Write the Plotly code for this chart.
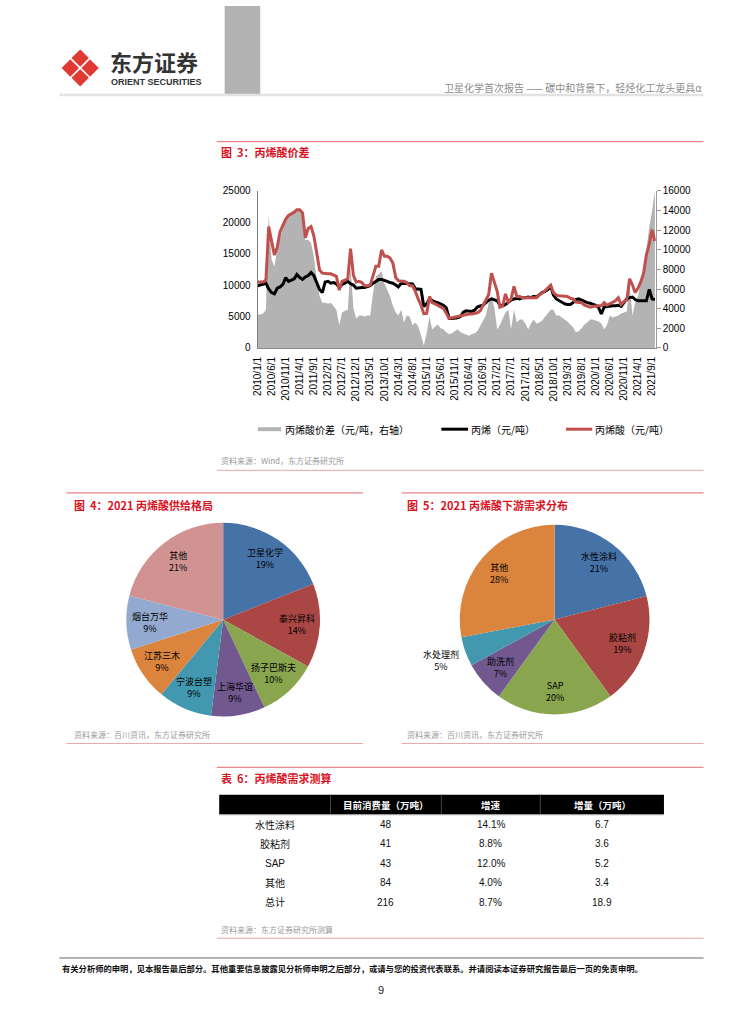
import math
import pandas as pd
import plotly.graph_objects as go

W, H = 755, 1024
FONT = "Liberation Sans, Noto Sans CJK SC, sans-serif"
CJK = "Noto Sans CJK SC, Liberation Sans, sans-serif"


def px(x):
    return x / W


def py(y):
    return 1 - y / H


# ---------------- data: Figure 3 (monthly, 2010/1 .. 2021/10) ----------------
months = pd.date_range("2010-01-01", periods=142, freq="MS")

# 丙烯酸价差 (元/吨, right axis)
spread = [
    3400, 3400, 3500, 3900, 13700, 9000, 8300, 10000, 11000, 12300,
    13000, 13400, 13600, 13900, 14000, 14000, 13500, 11000, 11000, 10700,
    9300, 7000, 5300, 4600, 4600, 4500, 4600, 4200, 3900, 2300,
    3600, 3800, 3900, 8300, 4000, 3000, 3300, 3300, 3200, 3300,
    3300, 5600, 7300, 7500, 7800, 6600, 6000, 5300, 4300, 3600,
    3300, 3900, 2600, 3300, 3200, 2300, 2600, 2200, 1300, 250,
    1500, 3200, 1900, 2200, 2400, 2000, 1900, 1600, 1400, 1500,
    1700, 1900, 1600, 1500, 1400, 1250, 1400, 1500, 1700, 2200,
    2800, 3300, 4600, 5300, 4100, 1900, 2300, 3000, 3600, 3900,
    1900, 3900, 2600, 2900, 2900, 2500, 1900, 2500, 2900, 2500,
    2600, 2800, 3200, 3600, 3900, 3900, 3300, 3300, 3100, 2900,
    2700, 2400, 2100, 1600, 1700, 2000, 2400, 2600, 2900, 2900,
    2800, 2700, 2500, 1900, 2300, 3300, 3100, 3200, 3300, 3500,
    3600, 3700, 6300, 3300, 4600, 5300, 6600, 7600, 10000, 12300,
    14000, 16000,
]

# 丙烯 (元/吨)
propylene = [
    9900, 10000, 10100, 10300, 9400, 8800, 8600, 9500, 9700, 10100,
    11200, 10600, 10800, 11000, 11700, 11200, 10900, 11300, 11500, 12000,
    11500, 10400, 9300, 8800, 10500, 10600, 10300, 10400, 10200, 9600,
    10100, 10300, 10600, 10200, 10000, 9500, 9600, 9600, 9600, 9700,
    9900, 10300, 10600, 10900, 10900, 10800, 10600, 10400, 10300, 10000,
    9700, 10300, 10300, 10300, 10300, 10200, 9400, 9300, 9300, 6600,
    7000, 7800, 7500, 7300, 7200, 7000, 6800, 6400, 4700, 4700,
    4700, 4800, 5000, 5700, 5900, 5900, 5800, 6000, 6500, 6700,
    6800, 7200, 7600, 7800, 7700, 7500, 6800, 6700, 6900, 7300,
    7600, 7800, 7900, 7800, 8000, 8000, 8100, 8000, 8200, 8100,
    8500, 8800, 9000, 9300, 9800, 8400, 7800, 7500, 7300, 7000,
    6900, 6900, 7200, 7700, 7800, 7600, 7300, 7200, 7100, 7000,
    6800, 6400, 5400, 6500, 6600, 6600, 6700, 6700, 6800, 6600,
    7200, 7800, 8000, 8100, 7700, 7500, 7500, 7500, 7500, 9300,
    7800, 7700,
]

# 丙烯酸 (元/吨)
acrylic = [
    10500, 10500, 10500, 10800, 19300, 17000, 14800, 16000, 18500, 19500,
    20500, 21100, 21300, 21600, 22000, 22000, 21500, 17500, 19000, 19300,
    17800, 14800, 12400, 11900, 11800, 11800, 11800, 11600, 11400, 9200,
    10600, 10800, 11000, 15800, 11500, 10500, 10600, 10400, 9900, 9900,
    10000, 11500, 13000, 13000, 15600, 14600, 14600, 14300, 13500, 11200,
    10700, 10600, 10600, 10400, 9900, 9900, 9000, 7800, 6800, 5450,
    5500, 8200, 7200, 7000, 6800, 6600, 6300, 5500, 4700, 4800,
    4900, 5100, 5100, 5200, 5400, 5400, 5400, 5500, 5600, 5900,
    6700, 7500, 8500, 11900, 10400, 9000, 6500, 6700, 8600, 7300,
    7800, 9800, 8200, 8200, 8000, 8000, 8000, 7900, 8000, 8000,
    8500, 8700, 9100, 9600, 10000, 8800, 8400, 8300, 8300, 8200,
    8200, 7900, 7800, 7300, 7200, 7200, 6800, 6600, 6500, 6600,
    6700, 6700, 6700, 7200, 6800, 7000, 7300, 7500, 8000, 6900,
    7400, 7600, 11000, 10000, 8800, 9500, 10500, 11900, 14800, 16500,
    18800, 17000,
]

series_names = ["丙烯酸价差（元/吨，右轴）", "丙烯（元/吨）", "丙烯酸（元/吨）"]

# ---------------- data: Figure 4 & 5 ----------------
supply_labels = ["卫星化学", "泰兴昇科", "扬子巴斯夫", "上海华谊", "宁波台塑", "江苏三木", "烟台万华", "其他"]
supply_values = [19, 14, 10, 9, 9, 9, 9, 21]
supply_colors = ["#4572A7", "#AA4643", "#89A54E", "#71588F", "#4198AF", "#DB843D", "#93A9CF", "#D19392"]

demand_labels = ["水性涂料", "胶粘剂", "SAP", "助洗剂", "水处理剂", "其他"]
demand_values = [21, 19, 20, 7, 5, 28]
demand_colors = ["#4572A7", "#AA4643", "#89A54E", "#71588F", "#4198AF", "#DB843D"]

# ---------------- data: Table 6 ----------------
table_header = ["", "目前消费量（万吨）", "增速", "增量（万吨）"]
table_items = ["水性涂料", "胶粘剂", "SAP", "其他", "总计"]
table_consumption = ["48", "41", "43", "84", "216"]
table_growth = ["14.1%", "8.8%", "12.0%", "4.0%", "8.7%"]
table_increment = ["6.7", "3.6", "5.2", "3.4", "18.9"]

fig = go.Figure()

# ---------------- Figure 3 traces ----------------
fig.add_trace(go.Scatter(
    x=months, y=spread, name=series_names[0], mode="lines", fill="tozeroy",
    line=dict(width=0, color="#B3B3B3"), fillcolor="#B3B3B3",
    xaxis="x", yaxis="y", showlegend=False, hoverinfo="skip"))
fig.add_trace(go.Scatter(
    x=months, y=propylene, name=series_names[1], mode="lines",
    line=dict(width=3, color="#000000"),
    xaxis="x", yaxis="y2", showlegend=False))
fig.add_trace(go.Scatter(
    x=months, y=acrylic, name=series_names[2], mode="lines",
    line=dict(width=3, color="#C0504D"),
    xaxis="x", yaxis="y2", showlegend=False))

tick_dates = list(months[::5])
tick_text = [f"{d.year}/{d.month}/{d.day}" for d in tick_dates]

x0_px, x1_px = 254.3, 656.7
y_top_px, y_bot_px = 187, 346


# ---------------- pies ----------------
def pie_domain(cx, cy, r):
    return dict(x=[px(cx - r), px(cx + r)], y=[py(cy + r), py(cy - r)])


P4 = (219.5, 621.0, 98.0)
P5 = (554.5, 620.8, 96.0)

fig.add_trace(go.Pie(
    labels=supply_labels, values=supply_values, sort=False, direction="clockwise",
    rotation=0, marker=dict(colors=supply_colors, line=dict(width=0)),
    textinfo="none", hoverinfo="skip", showlegend=False, domain=pie_domain(*P4)))
fig.add_trace(go.Pie(
    labels=demand_labels, values=demand_values, sort=False, direction="clockwise",
    rotation=0, marker=dict(colors=demand_colors, line=dict(width=0)),
    textinfo="none", hoverinfo="skip", showlegend=False, domain=pie_domain(*P5)))

annotations = []
shapes = []


def text(x, y, s, size=10, color="#000", xanchor="left", yanchor="middle", family=FONT, bold=False):
    if bold:
        s = f"<b>{s}</b>"
    annotations.append(dict(
        x=px(x), y=py(y), xref="paper", yref="paper", text=s, showarrow=False,
        xanchor=xanchor, yanchor=yanchor, font=dict(size=size, color=color, family=family)))


def hline(x0, x1, y, color, width=1):
    shapes.append(dict(type="line", xref="paper", yref="paper",
                       x0=px(x0), x1=px(x1), y0=py(y), y1=py(y),
                       line=dict(color=color, width=width)))


def pie_labels(cx, cy, R, labels, values, inner=0.76, outer=1.27, small=6):
    total = sum(values)
    cum = 0
    for lab, v in zip(labels, values):
        mid = (cum + v / 2) / total * 2 * math.pi
        cum += v
        r = R * (outer if v < small else inner)
        x = cx + r * math.sin(mid)
        y = cy - r * math.cos(mid)
        text(x, y, f"{lab}<br>{round(v / total * 100)}%", size=9, color="#000",
             xanchor="center", family=CJK)


pie_labels(*P4, supply_labels, supply_values)
pie_labels(*P5, demand_labels, demand_values)

# ---------------- header ----------------
shapes.append(dict(type="rect", xref="paper", yref="paper", x0=px(221), x1=px(257),
                   y0=py(89), y1=py(0), fillcolor="#B3B3B3", line=dict(width=0)))
hline(54, 705, 90, "#E3E3E3", 2.5)
# logo: four rounded diamonds separated by a white X
lc, lcy, d = 75.0, 62.7, 10.0
for ox, oy in [(0, -d), (d, 0), (0, d), (-d, 0)]:
    cx, cy = lc + ox, lcy + oy
    s = 7.0
    path = (f"M {px(cx)} {py(cy - s)} L {px(cx + s)} {py(cy)} "
            f"L {px(cx)} {py(cy + s)} L {px(cx - s)} {py(cy)} Z")
    shapes.append(dict(type="path", xref="paper", yref="paper", path=path,
                       fillcolor="#E03A33", line=dict(color="#E03A33", width=2.5)))
text(103, 56, "东方证券", size=22, color="#333333", family=CJK, bold=True)
text(104, 76.5, "ORIENT SECURITIES", size=9, color="#333333", bold=True)
text(705, 82, "卫星化学首次报告 —— 碳中和背景下，轻烃化工龙头更具α", size=10,
     color="#8C8C8C", xanchor="right", family=CJK)

RED = "#D9121F"
TOPLINE = "#E06A6A"
BOTLINE = "#EBA5A5"
SRC = "#9A9A9A"

# ---------------- Figure 3 frame ----------------
hline(213, 705, 137.3, TOPLINE, 1)
text(215, 147.5, "图  3：丙烯酸价差", size=11, color=RED, family=CJK, bold=True)
# legend
shapes.append(dict(type="rect", xref="paper", yref="paper", x0=px(254.6), x1=px(278),
                   y0=py(430.2), y1=py(426.2), fillcolor="#B3B3B3", line=dict(width=0)))
hline(440, 467, 428.2, "#000000", 3)
hline(566, 592.5, 428.2, "#C0504D", 3)
text(280, 428.5, series_names[0], size=10, family=CJK)
text(468, 428.5, series_names[1], size=10, family=CJK)
text(593.5, 428.5, series_names[2], size=10, family=CJK)
text(215, 460, "资料来源：Wind，东方证券研究所", size=8, color=SRC, family=CJK)
hline(213, 705, 469.8, BOTLINE, 1)

# ---------------- Figure 4/5 frames ----------------
hline(61, 361, 492.7, TOPLINE, 1)
text(67, 504.5, "图  4：2021 丙烯酸供给格局", size=11, color=RED, family=CJK, bold=True)
text(67, 737.3, "资料来源：百川资讯，东方证券研究所", size=8, color=SRC, family=CJK)
hline(61, 361, 746.3, BOTLINE, 1)

hline(400, 705, 492.7, TOPLINE, 1)
text(403, 504.5, "图  5：2021 丙烯酸下游需求分布", size=11, color=RED, family=CJK, bold=True)
text(403, 737.3, "资料来源：百川资讯，东方证券研究所", size=8, color=SRC, family=CJK)
hline(400, 705, 746.3, BOTLINE, 1)

# ---------------- Table 6 ----------------
hline(213, 705, 770.3, TOPLINE, 1)
text(215, 781.5, "表  6：丙烯酸需求测算", size=11, color=RED, family=CJK, bold=True)
col_edges = [215.5, 328, 440, 540, 665]
head_top, head_bot = 798, 818
shapes.append(dict(type="rect", xref="paper", yref="paper", x0=px(col_edges[0]),
                   x1=px(col_edges[-1]), y0=py(head_bot), y1=py(head_top),
                   fillcolor="#000000", line=dict(width=0)))
for e in col_edges[1:-1]:
    shapes.append(dict(type="line", xref="paper", yref="paper", x0=px(e), x1=px(e),
                       y0=py(head_bot), y1=py(head_top), line=dict(color="#555555", width=0.8)))
hline(col_edges[0], col_edges[-1], head_bot + 0.5, "#BBBBBB", 0.8)
centers = [(col_edges[i] + col_edges[i + 1]) / 2 for i in range(4)]
centers[0] = 272
for c, h in zip(centers, table_header):
    if h:
        text(c, 808, h, size=9.5, color="#FFFFFF", xanchor="center", family=CJK, bold=True)
row_y0, row_dy = 828.3, 19.6
for i, row in enumerate(zip(table_items, table_consumption, table_growth, table_increment)):
    yy = row_y0 + i * row_dy
    for c, val in zip(centers, row):
        text(c, yy, val, size=10, color="#111111", xanchor="center", family=FONT)
text(215, 934, "资料来源：东方证券研究所测算", size=8, color=SRC, family=CJK)
hline(213, 705, 943.3, BOTLINE, 1)

# ---------------- footer ----------------
hline(54, 705, 963.3, "#9A9A9A", 1.5)
text(55, 973, "有关分析师的申明，见本报告最后部分。其他重要信息披露见分析师申明之后部分，或请与您的投资代表联系。并请阅读本证券研究报告最后一页的免责申明。",
     size=8.3, color="#111111", family=CJK, bold=True)
text(379, 995.5, "9", size=11, color="#222222", xanchor="center", family=FONT)

fig.update_layout(
    width=W, height=H, autosize=False,
    margin=dict(l=0, r=0, t=0, b=0),
    paper_bgcolor="#FFFFFF", plot_bgcolor="rgba(0,0,0,0)",
    showlegend=False,
    font=dict(family=FONT, size=10, color="#000"),
    xaxis=dict(
        domain=[px(x0_px), px(x1_px)], type="date",
        range=[months[0], pd.Timestamp("2021-10-10")],
        tickvals=tick_dates, ticktext=tick_text, tickangle=-90,
        tickfont=dict(size=10, family=FONT, color="#000"),
        showgrid=False, zeroline=False, showline=True, linecolor="#8C8C8C", linewidth=1,
        ticks="", ticklabelstandoff=4, anchor="y"),
    yaxis=dict(
        domain=[py(y_bot_px), py(y_top_px)], range=[0, 16000], dtick=2000,
        side="right", anchor="x", showgrid=False, zeroline=False,
        showline=True, linecolor="#9A9A9A", linewidth=1,
        ticks="outside", ticklen=4, tickcolor="#9A9A9A",
        tickfont=dict(size=10, family=FONT, color="#000"), tickformat="d"),
    yaxis2=dict(
        range=[0, 25000], dtick=5000, overlaying="y", side="left", anchor="x",
        showgrid=False, zeroline=False, showline=True, linecolor="#7F7F7F", linewidth=1,
        ticks="", tickfont=dict(size=10, family=FONT, color="#000"), tickformat="d",
        ticklabelstandoff=4),
    annotations=annotations,
    shapes=shapes,
)

fig.write_html(
    "out.html",
    config={"displayModeBar": False, "staticPlot": True},
    post_script="document.body.style.margin='0';document.body.style.overflow='hidden';",
)
